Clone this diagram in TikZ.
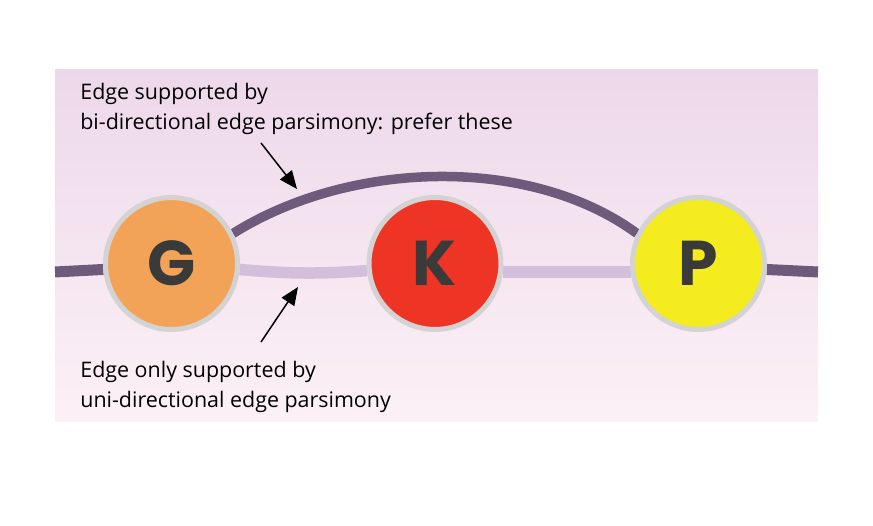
\documentclass[tikz,border=0pt]{standalone}
\usepackage{fontspec}
\setmainfont{Open Sans}
\newfontfamily\letterfont{Poppins}
\usetikzlibrary{arrows.meta}
\usetikzlibrary{backgrounds}
\definecolor{pgpaneltop}{HTML}{EDD8EA}
\definecolor{pgpanelbot}{HTML}{FCF1F6}
\definecolor{pgring}{HTML}{D4D3D4}
\definecolor{pgink}{HTML}{3A3A3A}
\definecolor{pgstrongline}{HTML}{6E5A7A}
\definecolor{pgweakline}{HTML}{D3BEDB}
\definecolor{pgorange}{HTML}{F2A358}
\definecolor{pgred}{HTML}{EE3424}
\definecolor{pgyellow}{HTML}{F5EC1F}
\tikzset{
  pgnode/.style={
    circle, draw=pgring, line width=0.1cm, minimum size=2.64cm,
    inner sep=0pt, text=pgink,
    font=\letterfont\bfseries\fontsize{36}{36}\selectfont},
  pgedge/.style={draw=pgstrongline, line width=0.22cm},
  pgweakedge/.style={draw=pgweakline, line width=0.23cm},
  pgpointer/.style={
    -{Triangle[length=0.36cm, width=0.3cm]}, draw=black, line width=0.03cm},
  pgnote/.style={
    anchor=north west, inner sep=0pt, align=left, text=black,
    font=\fontsize{12.2}{17}\selectfont},
}

\begin{document}
\begin{tikzpicture}[x=0.02cm, y=-0.02cm]
\useasboundingbox (0,0) rectangle (873,526);

% Gene nodes along the chain.
\node[pgnode, fill=pgorange] (G) at (171.5, 263.5) {G};
\node[pgnode, fill=pgred] (K) at (435, 263.5) {K};
\node[pgnode, fill=pgyellow] (P) at (698.5, 263.5) {P};

% Panel and edges, kept behind the nodes.
\coordinate (leftend) at (55, 272);
\coordinate (rightend) at (818, 272);
\begin{scope}[on background layer]
  \shade[top color=pgpaneltop, bottom color=pgpanelbot]
    (55, 70) rectangle (818, 422);
  \draw[pgedge] (leftend) -- (G.185);
  \draw[pgedge] (P.-5) -- (rightend);
  \draw[pgedge, line width=0.19cm]
    (G.26) .. controls (350, 160) and (530, 155) .. (P.154);
  \draw[pgweakedge] (G.-5) .. controls (290, 274) and (320, 274) .. (K.186);
  \draw[pgweakedge] (K.-7) -- (P.187);
\end{scope}

% Notes and their pointers.
\node[pgnote] (bidinote) at (80, 83)
  {Edge supported by\\bi-directional edge parsimony: prefer these};
\node[pgnote] (uninote) at (80, 361)
  {Edge only supported by\\uni-directional edge parsimony};
\coordinate (bidtail) at (261, 143);
\coordinate (bidtip) at (297, 189);
\coordinate (unitail) at (261, 342);
\coordinate (unitip) at (298, 287);
\draw[pgpointer] (bidtail) -- (bidtip);
\draw[pgpointer] (unitail) -- (unitip);

\end{tikzpicture}
\end{document}
